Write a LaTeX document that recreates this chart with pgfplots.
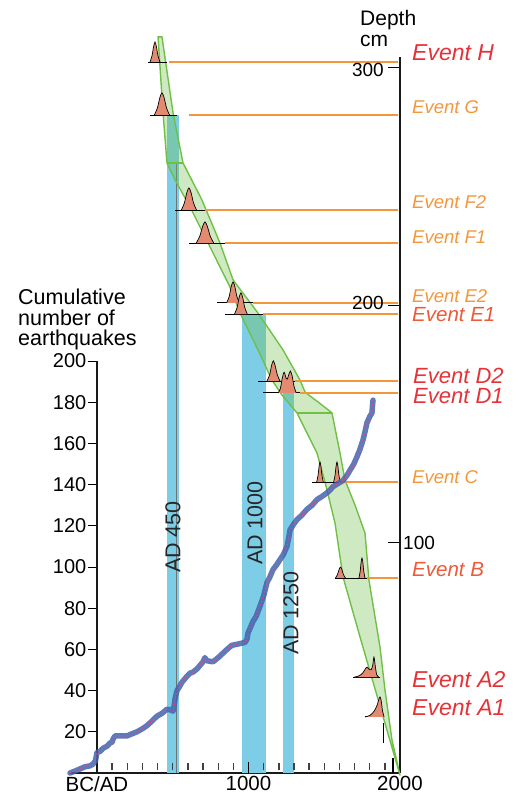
\documentclass[border=0pt]{standalone}
\usepackage{fontspec}
\setmainfont{Liberation Sans}
\usepackage{pgfplots}
\pgfplotsset{compat=1.18}
\definecolor{barblue}{RGB}{125,205,230}
\definecolor{bandgreen}{RGB}{110,190,70}
\definecolor{bandedge}{RGB}{112,192,70}
\definecolor{evorange}{RGB}{243,150,60}
\definecolor{evred}{RGB}{230,50,55}
\definecolor{evredor}{RGB}{236,90,55}
\definecolor{peakfill}{RGB}{228,138,112}
\definecolor{curveblue}{RGB}{65,100,175}
\definecolor{curvepink}{RGB}{232,70,130}
\newcommand{\fs}[1]{\fontsize{#1}{#1}\selectfont}
\begin{document}
\begin{tikzpicture}[x=1pt,y=-1pt]
\useasboundingbox (0,0) rectangle (517,797);
% ---------- depth axis (right) ----------
\begin{axis}[at={(70pt,-773pt)}, anchor=south west, scale only axis,
  width=330pt, height=716pt, xmin=-178, xmax=2000, ymin=3.1, ymax=304.5,
  clip=false, axis x line=bottom, axis y line=right,
  axis line style={-, line width=1.7pt, black!90},
  xtick={0,1000,2000}, xticklabels={BC/AD,1000,2000},
  xtick style={draw=none},
  ytick={100,200,300}, yticklabels={100,{},{}},
  tick align=inside, major tick length=12pt,
  ytick style={line width=1pt, black},
  xticklabel style={font=\fs{20.5}, inner sep=3pt},
  yticklabel style={font=\fs{19}, inner sep=3pt},
  /pgf/number format/assume math mode=true]
% blue bars
\addplot[fill=barblue, draw=none] coordinates {(462,3.1) (462,280.1) (541,280.1) (541,3.1)} -- cycle;
\addplot[fill=barblue, draw=none] coordinates {(957,3.1) (957,196.3) (1116,196.3) (1116,3.1)} -- cycle;
\addplot[fill=barblue, draw=none] coordinates {(1228,3.1) (1228,163.1) (1300,163.1) (1300,3.1)} -- cycle;
\addplot[black!55, line width=0.8pt] coordinates {(522,3.1) (522,259.9)};
% green band
\addplot[fill=bandgreen, fill opacity=0.33, draw=bandedge, line width=1.4pt, line join=round] coordinates {
(403,313.0) (436,281.0) (462,259.9) (515,252.8) (614,241.4) (878,207.7) (944,196.7) (1063,181.2) (1155,168.5) (1221,162.2) (1320,154.7) (1452,137.8) (1505,125.6) (1571,108.3) (1624,85.6) (1736,60.4) (2000,2.2)
(1947,17.0) (1901,38.0) (1868,56.1) (1795,84.3) (1769,104.1) (1703,115.9) (1637,126.4) (1604,137.8) (1551,154.7) (1459,159.3) (1406,161.8) (1373,163.5) (1340,168.5) (1228,181.2) (1063,196.7) (898,210.7) (812,226.2) (693,244.3) (568,259.9) (502,281.0) (429,313.0)} -- cycle;
\addplot[bandedge, line width=1.4pt] coordinates {(462,259.9) (568,259.9)};
\addplot[bandedge, line width=1.4pt] coordinates {(1320,154.7) (1551,154.7)};
% event lines
\addplot[evorange, line width=1.3pt] coordinates {(475,302.4) (1987,302.4)};
\addplot[evorange, line width=1.3pt] coordinates {(607,280.1) (1987,280.1)};
\addplot[evorange, line width=1.3pt] coordinates {(713,240.1) (1987,240.1)};
\addplot[evorange, line width=1.3pt] coordinates {(845,226.2) (1987,226.2)};
\addplot[evorange, line width=1.3pt] coordinates {(1030,201.0) (1987,201.0)};
\addplot[evorange, line width=1.3pt] coordinates {(1096,196.3) (1987,196.3)};
\addplot[evorange, line width=1.3pt] coordinates {(1307,168.1) (1987,168.1)};
\addplot[evorange, line width=1.3pt] coordinates {(1340,163.1) (1987,163.1)};
\addplot[evorange, line width=1.3pt] coordinates {(1604,125.6) (1987,125.6)};
\addplot[evorange, line width=1.3pt] coordinates {(1782,85.2) (1987,85.2)};
% baselines of the age distributions
\addplot[black, line width=0.9pt] coordinates {(337,302.4) (462,302.4)};
\addplot[black, line width=0.9pt] coordinates {(350,280.1) (528,280.1)};
\addplot[black, line width=0.9pt] coordinates {(515,240.1) (713,240.1)};
\addplot[black, line width=0.9pt] coordinates {(607,226.2) (845,226.2)};
\addplot[black, line width=0.9pt] coordinates {(792,201.0) (1030,201.0)};
\addplot[black, line width=0.9pt] coordinates {(845,196.3) (1096,196.3)};
\addplot[black, line width=0.9pt] coordinates {(1063,168.1) (1307,168.1)};
\addplot[black, line width=0.9pt] coordinates {(1096,163.1) (1340,163.1)};
\addplot[black, line width=0.9pt] coordinates {(1419,125.6) (1604,125.6)};
\addplot[black, line width=0.9pt] coordinates {(1571,85.2) (1782,85.2)};
\addplot[black, line width=0.9pt] coordinates {(1690,43.5) (1868,43.5)};
\addplot[black, line width=0.9pt] coordinates {(1769,26.7) (1888,26.7)};
% age distributions
\pgfplotsset{peak/.style={draw=black, line width=0.7pt, fill=peakfill, smooth, tension=0.5}}
\addplot[peak] coordinates {(350.5,302.4) (363.5,305.1) (373.9,308.9) (383,310.8) (392.1,308.9) (402.5,305.1) (415.5,302.4)};
\addplot[peak] coordinates {(379,280.1) (399,283.1) (415,287.4) (429,289.4) (443,287.4) (459,283.1) (479,280.1)};
\addplot[peak] coordinates {(557,240.1) (577,243.1) (593,247.4) (607,249.4) (621,247.4) (637,243.1) (657,240.1)};
\addplot[peak] coordinates {(655,226.2) (678,229.0) (697,233.1) (713,235.1) (729,233.1) (748,229.0) (771,226.2)};
\addplot[peak] coordinates {(856,201.0) (873,203.8) (886,207.9) (898,209.8) (910,207.9) (923,203.8) (940,201.0)};
\addplot[peak] coordinates {(908,196.3) (925,199.1) (938,203.2) (950,205.2) (962,203.2) (975,199.1) (992,196.3)};
\addplot[peak] coordinates {(1122,168.1) (1140,170.8) (1152,174.6) (1164,176.6) (1176,174.6) (1190,170.8) (1208,168.1)};
\addplot[peak] coordinates {(1195,163.1) (1210,164.8) (1222,169.0) (1235,171.8) (1248,169.4) (1256,168.9) (1265,170.6) (1277,172.3) (1289,170.0) (1300,166.0) (1315,163.1)};
\addplot[peak] coordinates {(1450,125.6) (1459,128.3) (1466,132.2) (1472,134.0) (1478,132.2) (1485,128.3) (1494,125.6)};
\addplot[peak] coordinates {(1562,125.6) (1571,128.3) (1578,132.2) (1584,134.0) (1590,132.2) (1597,128.3) (1606,125.6)};
\addplot[peak] coordinates {(1574,85.2) (1588,86.7) (1598,88.8) (1607,89.8) (1616,88.8) (1626,86.7) (1640,85.2)};
\addplot[peak] coordinates {(1729,85.2) (1737,87.9) (1743,91.7) (1749,93.6) (1755,91.7) (1761,87.9) (1769,85.2)};
\addplot[peak] coordinates {(1700,43.5) (1730,44.0) (1755,45.3) (1770,46.8) (1782,47.7) (1795,46.8) (1810,46.6) (1820,48.5) (1828,51.9) (1836,48.5) (1846,44.5) (1860,43.5)};
\addplot[peak] coordinates {(1769,26.7) (1800,27.3) (1828,29.0) (1848,31.5) (1860,34.0) (1868,35.1) (1876,33.5) (1884,29.5) (1895,26.7)};
\addplot[black, line width=1pt] coordinates {(1888,15.7) (1888,24.1)};
\end{axis}
% ---------- cumulative axis (left) ----------
\begin{axis}[at={(97pt,-773pt)}, anchor=south west, scale only axis,
  width=303pt, height=412pt, xmin=0, xmax=2000, ymin=0, ymax=200,
  clip=false, axis x line=none, axis y line=left,
  axis line style={-, line width=1.7pt, black!90},
  ytick={20,40,...,200}, tick align=outside, major tick length=9pt,
  tick style={line width=1pt, black},
  yticklabel style={font=\fs{20}, inner sep=1.5pt},
  /pgf/number format/assume math mode=true]
% x-axis tick marks every 100 years (short marks just above the axis line)
\addplot[black!75, line width=1.4pt] coordinates {(100,1.4) (100,4.9)};
\addplot[black!75, line width=1.4pt] coordinates {(200,1.4) (200,4.9)};
\addplot[black!75, line width=1.4pt] coordinates {(300,1.4) (300,4.9)};
\addplot[black!75, line width=1.4pt] coordinates {(400,1.4) (400,4.9)};
\addplot[black!75, line width=1.4pt] coordinates {(500,1.4) (500,4.9)};
\addplot[black!75, line width=1.4pt] coordinates {(600,1.4) (600,4.9)};
\addplot[black!75, line width=1.4pt] coordinates {(700,1.4) (700,4.9)};
\addplot[black!75, line width=1.4pt] coordinates {(800,1.4) (800,4.9)};
\addplot[black!75, line width=1.4pt] coordinates {(900,1.4) (900,4.9)};
\addplot[black!75, line width=1.4pt] coordinates {(1100,1.4) (1100,4.9)};
\addplot[black!75, line width=1.4pt] coordinates {(1200,1.4) (1200,4.9)};
\addplot[black!75, line width=1.4pt] coordinates {(1300,1.4) (1300,4.9)};
\addplot[black!75, line width=1.4pt] coordinates {(1400,1.4) (1400,4.9)};
\addplot[black!75, line width=1.4pt] coordinates {(1500,1.4) (1500,4.9)};
\addplot[black!75, line width=1.4pt] coordinates {(1600,1.4) (1600,4.9)};
\addplot[black!75, line width=1.4pt] coordinates {(1700,1.4) (1700,4.9)};
\addplot[black!75, line width=1.4pt] coordinates {(1800,1.4) (1800,4.9)};
\addplot[black!75, line width=1.4pt] coordinates {(1900,1.4) (1900,4.9)};
\addplot[black, line width=1.6pt] coordinates {(1000,0) (1000,5.5)};
\addplot[black, line width=1.4pt] coordinates {(1954,0) (1954,7.3)};
\addplot[curveblue, line width=5.5pt, line join=round, line cap=round, opacity=0.85] coordinates {
(-178,0) (-150,0.8) (-112,2) (-80,3) (-45,3.5) (-26,4.4) (-10,6) (0,10) (20,10.5) (40,12) (66,13) (85,14.5) (100,15) (106,16.5) (119,18) (160,18) (198,18) (230,19) (264,20) (300,21.5) (330,23) (360,25) (396,27.6) (430,29) (462,31) (490,30.5) (502,30) (510,33) (515,36) (528,40) (545,42) (560,44) (594,47) (615,48.5) (634,49) (660,50.5) (700,54) (712,56) (725,54.5) (766,54) (800,56) (858,60) (890,62) (924,62.5) (977,63.4) (990,65) (997,68) (1030,73.6) (1050,76) (1076,81) (1100,86) (1122,92.5) (1140,95) (1162,98.8) (1185,101) (1208,103.6) (1230,106) (1254,110) (1265,114) (1274,118) (1300,121) (1320,123) (1350,125) (1386,128) (1420,130) (1452,132.7) (1490,134.5) (1518,136) (1540,137.5) (1558,139) (1590,140.5) (1624,142) (1650,144.5) (1670,147) (1695,150) (1716,153.5) (1735,157) (1756,161.7) (1770,166) (1782,170) (1800,173) (1815,174.8) (1818,178) (1822,181)};
\addplot[curvepink, line width=0.9pt, dash pattern=on 1.5pt off 2pt] coordinates {
(-178,0) (-150,0.8) (-112,2) (-80,3) (-45,3.5) (-26,4.4) (-10,6) (0,10) (20,10.5) (40,12) (66,13) (85,14.5) (100,15) (106,16.5) (119,18) (160,18) (198,18) (230,19) (264,20) (300,21.5) (330,23) (360,25) (396,27.6) (430,29) (462,31) (490,30.5) (502,30) (510,33) (515,36) (528,40) (545,42) (560,44) (594,47) (615,48.5) (634,49) (660,50.5) (700,54) (712,56) (725,54.5) (766,54) (800,56) (858,60) (890,62) (924,62.5) (977,63.4) (990,65) (997,68) (1030,73.6) (1050,76) (1076,81) (1100,86) (1122,92.5) (1140,95) (1162,98.8) (1185,101) (1208,103.6) (1230,106) (1254,110) (1265,114) (1274,118) (1300,121) (1320,123) (1350,125) (1386,128) (1420,130) (1452,132.7) (1490,134.5) (1518,136) (1540,137.5) (1558,139) (1590,140.5) (1624,142) (1650,144.5) (1670,147) (1695,150) (1716,153.5) (1735,157) (1756,161.7) (1770,166) (1782,170) (1800,173) (1815,174.8) (1818,178) (1822,181)};
\end{axis}
% ---------- texts ----------
\node[anchor=north west, align=left, inner sep=0, font=\fontsize{21.5}{20.5}\selectfont] at (18,289) {Cumulative\\number of\\earthquakes};
\node[anchor=west, inner sep=0, font=\fs{21}] at (360,20) {Depth};
\node[anchor=west, inner sep=0, font=\fs{21}] at (360,41) {cm};
\node[anchor=east, inner sep=0, font=\fs{19}] at (384,70) {300};
\node[anchor=east, inner sep=0, font=\fs{19}] at (384,303) {200};
\node[rotate=90, font=\fs{21.5}, text=black!85] at (173,537) {AD 450};
\node[rotate=90, font=\fs{21.5}, text=black!85] at (255,523) {AD 1000};
\node[rotate=90, font=\fs{21.5}, text=black!85] at (291,613) {AD 1250};
\node[anchor=west, inner sep=0, text=evred, font=\fs{23}\itshape] at (412,53) {Event H};
\node[anchor=west, inner sep=0, text=evorange, font=\fs{18.5}\itshape] at (412,107) {Event G};
\node[anchor=west, inner sep=0, text=evorange, font=\fs{18.5}\itshape] at (412,202) {Event F2};
\node[anchor=west, inner sep=0, text=evorange, font=\fs{18.5}\itshape] at (412,237) {Event F1};
\node[anchor=west, inner sep=0, text=evorange, font=\fs{18.5}\itshape] at (412,296) {Event E2};
\node[anchor=west, inner sep=0, text=evredor, font=\fs{20.5}\itshape] at (412,315) {Event E1};
\node[anchor=west, inner sep=0, text=evred, font=\fs{22}\itshape] at (413,376) {Event D2};
\node[anchor=west, inner sep=0, text=evred, font=\fs{22}\itshape] at (413,396) {Event D1};
\node[anchor=west, inner sep=0, text=evorange, font=\fs{18.5}\itshape] at (412,477) {Event C};
\node[anchor=west, inner sep=0, text=evredor, font=\fs{20.5}\itshape] at (412,570) {Event B};
\node[anchor=west, inner sep=0, text=evred, font=\fs{23}\itshape] at (412,680) {Event A2};
\node[anchor=west, inner sep=0, text=evred, font=\fs{23}\itshape] at (412,708) {Event A1};
\end{tikzpicture}
\end{document}
